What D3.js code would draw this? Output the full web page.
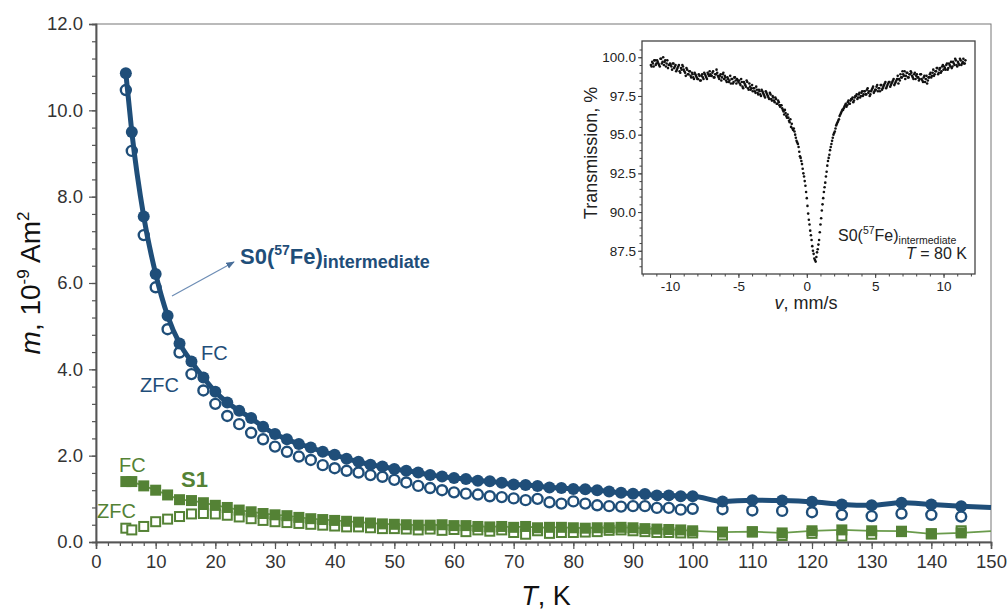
<!DOCTYPE html>
<html><head><meta charset="utf-8">
<script src="https://cdn.jsdelivr.net/npm/d3@7"></script>
<style>
html,body{margin:0;padding:0;background:#fff;}
svg{display:block;font-family:"Liberation Sans",Arial,sans-serif;}
</style></head>
<body><svg id="c" width="1008" height="611"></svg>
<script>
// ---------------- data ----------------
const temps = [5,6,8,10,12,14,16,18,20,22,24,26,28,30,32,34,36,38,40,42,44,46,48,50,52,54,56,58,60,62,64,66,68,70,72,74,76,78,80,82,84,86,88,90,92,94,96,98,100,105,110,115,120,125,130,135,140,145];
const s0FC  = [10.86,9.50,7.54,6.21,5.24,4.60,4.18,3.81,3.48,3.23,3.04,2.87,2.67,2.50,2.38,2.27,2.19,2.09,2.02,1.93,1.86,1.79,1.75,1.69,1.65,1.61,1.55,1.52,1.48,1.46,1.42,1.41,1.37,1.33,1.32,1.30,1.26,1.25,1.23,1.22,1.20,1.17,1.14,1.12,1.11,1.08,1.08,1.06,1.06,0.94,0.97,0.96,0.93,0.87,0.85,0.91,0.87,0.83];
const s0ZFC = [10.47,9.06,7.11,5.90,4.93,4.39,3.89,3.51,3.20,2.92,2.73,2.53,2.38,2.21,2.09,1.98,1.90,1.78,1.71,1.65,1.61,1.55,1.51,1.44,1.38,1.30,1.25,1.20,1.15,1.12,1.10,1.06,1.04,1.01,0.97,1.00,0.92,0.89,0.94,0.89,0.85,0.83,0.82,0.83,0.83,0.79,0.79,0.75,0.77,0.76,0.73,0.72,0.69,0.63,0.60,0.66,0.63,0.59];
const s1FC  = [1.40,1.40,1.30,1.20,1.09,0.98,0.96,0.91,0.85,0.80,0.74,0.70,0.66,0.63,0.61,0.57,0.54,0.52,0.50,0.48,0.46,0.44,0.42,0.41,0.40,0.39,0.39,0.40,0.38,0.38,0.36,0.35,0.36,0.34,0.36,0.33,0.34,0.34,0.33,0.32,0.33,0.33,0.34,0.33,0.31,0.30,0.29,0.28,0.26,0.23,0.24,0.21,0.26,0.28,0.26,0.25,0.19,0.21];
const s1ZFC = [0.32,0.28,0.36,0.47,0.53,0.59,0.65,0.66,0.65,0.62,0.58,0.54,0.50,0.47,0.45,0.43,0.41,0.39,0.37,0.35,0.35,0.33,0.31,0.31,0.30,0.28,0.30,0.27,0.29,0.24,0.28,0.25,0.28,0.22,0.18,0.26,0.20,0.22,0.22,0.23,0.24,0.27,0.28,0.26,0.24,0.22,0.22,0.21,0.21,0.16,0.23,0.15,0.20,0.14,0.18,0.24,0.19,0.26];
// line tails drawn beyond last measured point (read at T = 150 K)
const s0LineEnd = [150, 0.80];
const s1LineEnd = [150, 0.25];

const xTicks = [0,10,20,30,40,50,60,70,80,90,100,110,120,130,140,150];
const yTicks = [0,2,4,6,8,10,12];

// Inset Mössbauer spectrum (two interleaved sets of channels)
const vel = [
-11.4,-11.3,-11.2,-11.1,-11.0,
-10.9,-10.8,-10.7,-10.6,-10.5,-10.4,-10.3,-10.2,-10.1,-10.0,
-9.9,-9.8,-9.7,-9.6,-9.5,-9.4,-9.3,-9.2,-9.1,-9.0,
-8.9,-8.8,-8.7,-8.6,-8.5,-8.4,-8.3,-8.2,-8.1,-8.0,
-7.9,-7.8,-7.7,-7.6,-7.5,-7.4,-7.3,-7.2,-7.1,-7.0,
-6.9,-6.8,-6.7,-6.6,-6.5,-6.4,-6.3,-6.2,-6.1,-6.0,
-5.9,-5.8,-5.7,-5.6,-5.5,-5.4,-5.3,-5.2,-5.1,-5.0,
-4.9,-4.8,-4.7,-4.6,-4.5,-4.4,-4.3,-4.2,-4.1,-4.0,
-3.9,-3.8,-3.7,-3.6,-3.5,-3.4,-3.3,-3.2,-3.1,-3.0,
-2.9,-2.8,-2.7,-2.6,-2.5,-2.4,-2.3,-2.2,-2.1,-2.0,
-1.9,-1.8,-1.7,-1.6,-1.5,-1.4,-1.3,-1.2,-1.1,-1.0,
-0.9,-0.8,-0.7,-0.6,-0.5,-0.4,-0.3,-0.2,-0.1,0.0,
0.1,0.2,0.3,0.4,0.5,0.6,0.7,0.8,0.9,1.0,
1.1,1.2,1.3,1.4,1.5,1.6,1.7,1.8,1.9,2.0,
2.1,2.2,2.3,2.4,2.5,2.6,2.7,2.8,2.9,3.0,
3.1,3.2,3.3,3.4,3.5,3.6,3.7,3.8,3.9,4.0,
4.1,4.2,4.3,4.4,4.5,4.6,4.7,4.8,4.9,5.0,
5.1,5.2,5.3,5.4,5.5,5.6,5.7,5.8,5.9,6.0,
6.1,6.2,6.3,6.4,6.5,6.6,6.7,6.8,6.9,7.0,
7.1,7.2,7.3,7.4,7.5,7.6,7.7,7.8,7.9,8.0,
8.1,8.2,8.3,8.4,8.5,8.6,8.7,8.8,8.9,9.0,
9.1,9.2,9.3,9.4,9.5,9.6,9.7,9.8,9.9,10.0,
10.1,10.2,10.3,10.4,10.5,10.6,10.7,10.8,10.9,11.0,
11.1,11.2,11.3,11.4,11.5,11.6];
const trans = [
99.5,99.7,99.4,99.8,99.6,
99.7,99.5,99.9,99.6,100.0,99.7,99.4,99.8,99.5,99.6,
99.4,99.6,99.3,99.5,99.2,99.4,99.1,99.3,99.5,99.2,
99.0,99.3,98.9,99.1,98.8,99.0,98.7,99.0,98.8,98.6,
98.9,98.5,98.8,98.7,99.0,98.8,98.6,98.9,99.1,98.8,
99.0,98.7,98.9,99.2,98.8,98.6,98.9,98.7,99.0,98.8,
98.5,98.7,98.4,98.8,98.6,98.3,98.7,98.5,98.6,98.4,
98.3,98.6,98.1,98.4,98.2,98.5,98.0,98.3,97.9,98.2,
98.0,97.8,98.1,97.7,97.9,97.6,97.9,97.7,97.5,97.8,
97.6,97.4,97.7,97.3,97.5,97.2,97.4,97.0,97.2,96.9,
96.9,96.7,96.5,96.6,96.2,96.3,95.9,96.0,95.7,95.3,
95.2,94.8,94.5,94.2,93.6,93.3,92.8,92.3,91.7,90.9,
89.9,89.2,88.5,87.8,87.3,86.9,87.1,87.6,88.2,89.2,
90.1,90.9,91.6,92.3,93.0,93.5,94.0,94.4,94.8,95.1,
95.4,95.7,95.9,96.2,96.4,96.6,96.7,96.9,96.8,97.1,
97.0,97.2,97.3,97.1,97.4,97.5,97.3,97.6,97.4,97.7,
97.5,97.8,97.6,97.9,97.7,97.5,97.8,98.0,97.7,97.9,
98.1,97.8,98.0,98.2,97.9,98.1,98.3,98.0,98.2,98.4,
98.1,98.3,98.5,98.2,98.4,98.6,98.3,98.5,98.7,99.1,
98.8,98.6,99.0,98.7,98.9,99.1,98.8,98.6,99.0,98.8,
98.7,98.5,98.9,98.6,98.4,98.8,98.6,98.3,98.7,98.9,
98.7,99.0,98.8,99.1,99.3,98.9,99.2,99.0,99.4,99.2,
99.3,99.5,99.2,99.6,99.4,99.3,99.7,99.5,99.8,99.4,
99.6,99.9,99.5,99.7,99.6,99.8];
const vel2 = [
-11.35,-11.25,-11.15,-11.05,
-10.95,-10.85,-10.75,-10.65,-10.55,-10.45,-10.35,-10.25,-10.15,-10.05,
-9.95,-9.85,-9.75,-9.65,-9.55,-9.45,-9.35,-9.25,-9.15,-9.05,
-8.95,-8.85,-8.75,-8.65,-8.55,-8.45,-8.35,-8.25,-8.15,-8.05,
-7.95,-7.85,-7.75,-7.65,-7.55,-7.45,-7.35,-7.25,-7.15,-7.05,
-6.95,-6.85,-6.75,-6.65,-6.55,-6.45,-6.35,-6.25,-6.15,-6.05,
-5.95,-5.85,-5.75,-5.65,-5.55,-5.45,-5.35,-5.25,-5.15,-5.05,
-4.95,-4.85,-4.75,-4.65,-4.55,-4.45,-4.35,-4.25,-4.15,-4.05,
-3.95,-3.85,-3.75,-3.65,-3.55,-3.45,-3.35,-3.25,-3.15,-3.05,
-2.95,-2.85,-2.75,-2.65,-2.55,-2.45,-2.35,-2.25,-2.15,-2.05,
-1.95,-1.85,-1.75,-1.65,-1.55,-1.45,-1.35,-1.25,-1.15,-1.05,
-0.95,-0.85,-0.75,-0.65,-0.55,-0.45,-0.35,-0.25,-0.15,-0.05,
0.05,0.15,0.25,0.35,0.45,0.55,0.65,0.75,0.85,0.95,
1.05,1.15,1.25,1.35,1.45,1.55,1.65,1.75,1.85,1.95,
2.05,2.15,2.25,2.35,2.45,2.55,2.65,2.75,2.85,2.95,
3.05,3.15,3.25,3.35,3.45,3.55,3.65,3.75,3.85,3.95,
4.05,4.15,4.25,4.35,4.45,4.55,4.65,4.75,4.85,4.95,
5.05,5.15,5.25,5.35,5.45,5.55,5.65,5.75,5.85,5.95,
6.05,6.15,6.25,6.35,6.45,6.55,6.65,6.75,6.85,6.95,
7.05,7.15,7.25,7.35,7.45,7.55,7.65,7.75,7.85,7.95,
8.05,8.15,8.25,8.35,8.45,8.55,8.65,8.75,8.85,8.95,
9.05,9.15,9.25,9.35,9.45,9.55,9.65,9.75,9.85,9.95,
10.05,10.15,10.25,10.35,10.45,10.55,10.65,10.75,10.85,10.95,
11.05,11.15,11.25,11.35,11.45,11.55];
const trans2 = [
99.4,99.6,99.8,99.5,
99.8,99.6,99.4,99.9,99.7,99.5,99.8,99.6,99.3,99.5,
99.5,99.2,99.6,99.4,99.1,99.3,99.5,99.0,99.2,99.4,
99.1,98.8,99.2,98.9,99.1,98.7,98.9,98.6,98.9,98.7,
98.6,98.8,98.5,98.9,98.6,98.9,98.7,99.0,98.8,98.9,
98.8,99.1,98.7,98.9,99.0,98.7,98.8,98.5,98.9,98.6,
98.7,98.4,98.6,98.5,98.3,98.6,98.4,98.7,98.3,98.5,
98.5,98.2,98.4,98.0,98.3,98.1,98.4,97.9,98.1,98.0,
97.8,98.0,97.7,97.9,97.6,97.8,97.5,97.8,97.6,97.4,
97.7,97.5,97.3,97.6,97.2,97.4,97.1,97.3,97.0,97.1,
96.8,96.9,96.6,96.3,96.4,96.1,96.1,95.8,95.5,95.4,
95.4,95.0,94.6,94.4,93.9,93.5,93.1,92.5,92.0,91.3,
90.4,89.5,88.8,88.2,87.5,87.0,86.8,87.4,87.9,88.7,
89.6,90.5,91.3,91.9,92.6,93.3,93.7,94.2,94.6,95.0,
95.2,95.6,95.8,96.0,96.3,96.5,96.6,96.8,97.0,96.9,
97.2,97.0,97.3,97.4,97.2,97.5,97.6,97.4,97.7,97.5,
97.8,97.6,97.8,97.6,98.0,97.8,97.6,97.9,98.1,97.8,
97.9,98.2,98.0,97.8,98.2,98.0,98.2,98.4,98.1,98.3,
98.4,98.2,98.4,98.6,98.3,98.5,98.8,98.6,98.9,98.7,
98.9,99.1,98.8,99.0,98.7,98.9,99.0,98.7,98.9,98.6,
98.9,98.7,98.6,98.9,98.5,98.7,98.4,98.8,98.5,98.7,
99.0,98.8,99.2,98.9,99.1,99.3,99.0,99.3,99.1,99.5,
99.4,99.2,99.6,99.3,99.5,99.7,99.4,99.6,99.9,99.5,
99.7,99.5,99.8,99.6,99.9,99.6];
const insetXTicks = [-10,-5,0,5,10];
const insetYTicks = [87.5,90,92.5,95,97.5,100];

// ---------------- drawing ----------------
const BLUE = "#1f4e79", GREEN = "#548235", GREEN_LINE = "#6a9b4c", AX = "#555";
const svg = d3.select("#c");
const L = 96, R = 991, Tp = 24, B = 542;
const x = d3.scaleLinear().domain([0,150]).range([L,R]);
const y = d3.scaleLinear().domain([0,12]).range([B,Tp]);

// frame
svg.append("rect").attr("x",L).attr("y",Tp).attr("width",R-L).attr("height",B-Tp)
  .attr("fill","none").attr("stroke","#777").attr("stroke-width",1);

// axes
const minorX = d3.range(0,151,2), minorY = d3.range(0,12.01,0.4);
const gx = svg.append("g").attr("transform",`translate(0,${B})`)
  .call(d3.axisBottom(x).tickValues(minorX).tickSize(4).tickFormat(""));
const gx2 = svg.append("g").attr("transform",`translate(0,${B})`)
  .call(d3.axisBottom(x).tickValues(xTicks).tickSize(7).tickPadding(6).tickFormat(d=>String(d)));
const gy = svg.append("g").attr("transform",`translate(${L},0)`)
  .call(d3.axisLeft(y).tickValues(minorY).tickSize(4).tickFormat(""));
const gy2 = svg.append("g").attr("transform",`translate(${L},0)`)
  .call(d3.axisLeft(y).tickValues(yTicks).tickSize(7).tickPadding(6).tickFormat(d3.format(".1f")));
[gx,gx2,gy,gy2].forEach(g=>{
  g.selectAll("path").attr("stroke",AX).attr("stroke-width",1.5);
  g.selectAll("line").attr("stroke",AX).attr("stroke-width",1.2);
  g.selectAll("text").attr("fill","#333").style("font-size","18.5px").style("font-family","Liberation Sans, Arial");
});

// axis titles
const yt = svg.append("text").attr("transform","translate(40,283) rotate(-90)")
  .attr("text-anchor","middle").style("font-size","28px").attr("fill","#111");
yt.append("tspan").text("m").style("font-style","italic");
yt.append("tspan").text(", 10");
yt.append("tspan").text("-9").style("font-size","17px").attr("dy",-11);
yt.append("tspan").text(" Am").attr("dy",11);
yt.append("tspan").text("2").style("font-size","17px").attr("dy",-11);

const xt = svg.append("text").attr("x",546).attr("y",605).attr("text-anchor","middle")
  .style("font-size","27px").attr("fill","#111");
xt.append("tspan").text("T").style("font-style","italic");
xt.append("tspan").text(", K");

// ---- S1 (green) ----
const s1 = temps.map((t,i)=>({t, fc:s1FC[i], zfc:s1ZFC[i]}));
const sq = 11;
svg.append("g").selectAll("rect").data(s1).join("rect")
  .attr("x",d=>x(d.t)-sq/2+1).attr("y",d=>y(d.zfc)-sq/2+1).attr("width",sq-2).attr("height",sq-2)
  .attr("fill","#fff").attr("stroke",GREEN).attr("stroke-width",2);
const s1Line = s1.map(d=>[d.t,d.fc]).concat([s1LineEnd]);
svg.append("path").datum(s1Line)
  .attr("d",d3.line().x(d=>x(d[0])).y(d=>y(d[1])))
  .attr("fill","none").attr("stroke",GREEN_LINE).attr("stroke-width",1.8);
svg.append("g").selectAll("rect").data(s1).join("rect")
  .attr("x",d=>x(d.t)-sq/2).attr("y",d=>y(d.fc)-sq/2).attr("width",sq).attr("height",sq)
  .attr("fill",GREEN);

// ---- S0 (blue) ----
const s0 = temps.map((t,i)=>({t, fc:s0FC[i], zfc:s0ZFC[i]}));
svg.append("g").selectAll("circle").data(s0).join("circle")
  .attr("cx",d=>x(d.t)).attr("cy",d=>y(d.zfc)).attr("r",5)
  .attr("fill","#fff").attr("stroke",BLUE).attr("stroke-width",2.4);
const s0Line = s0.map(d=>[d.t,d.fc]).concat([s0LineEnd]);
svg.append("path").datum(s0Line)
  .attr("d",d3.line().curve(d3.curveMonotoneX).x(d=>x(d[0])).y(d=>y(d[1])))
  .attr("fill","none").attr("stroke",BLUE).attr("stroke-width",5).attr("stroke-linejoin","round");
svg.append("g").selectAll("circle").data(s0).join("circle")
  .attr("cx",d=>x(d.t)).attr("cy",d=>y(d.fc)).attr("r",6).attr("fill",BLUE);

// ---- labels ----
function lab(tx,ty,str,col,size,bold){
  return svg.append("text").attr("x",tx).attr("y",ty).text(str).attr("fill",col)
    .style("font-size",size+"px").style("font-weight",bold?"bold":"normal");
}
lab(201,360,"FC",BLUE,20);
lab(140,392,"ZFC",BLUE,20);
lab(119,472,"FC",GREEN,20);
lab(181,487,"S1",GREEN,22,true);
lab(97,518,"ZFC",GREEN,20);

const s0t = svg.append("text").attr("x",240).attr("y",264).attr("fill",BLUE)
  .style("font-size","22px").style("font-weight","bold");
s0t.append("tspan").text("S0(");
s0t.append("tspan").text("57").style("font-size","14px").attr("dy",-9);
s0t.append("tspan").text("Fe)").attr("dy",9);
s0t.append("tspan").text("intermediate").style("font-size","18px").attr("dy",4);

svg.append("defs").append("marker").attr("id","ah").attr("viewBox","0 0 10 10")
  .attr("refX",9).attr("refY",5).attr("markerWidth",7).attr("markerHeight",7).attr("orient","auto")
  .append("path").attr("d","M0,1 L10,5 L0,9 z").attr("fill","#4a6f9a");
svg.append("line").attr("x1",172).attr("y1",296).attr("x2",234).attr("y2",262)
  .attr("stroke","#6d8db5").attr("stroke-width",1.2).attr("marker-end","url(#ah)");

// ---------------- inset ----------------
const iL = 642, iR = 975, iT = 41, iB = 274;
const ix = d3.scaleLinear().domain([-12.05,12.3]).range([iL,iR]);
const iy = d3.scaleLinear().domain([86.0,101.05]).range([iB,iT]);
const inset = svg.append("g");
inset.append("rect").attr("x",iL).attr("y",iT).attr("width",iR-iL).attr("height",iB-iT)
  .attr("fill","#fff").attr("stroke","#444").attr("stroke-width",1.3);
const ixg = inset.append("g").attr("transform",`translate(0,${iB})`)
  .call(d3.axisBottom(ix).tickValues(d3.range(-12,13,1)).tickSize(2.5).tickFormat(""));
const ixg2 = inset.append("g").attr("transform",`translate(0,${iB})`)
  .call(d3.axisBottom(ix).tickValues(insetXTicks).tickSize(4).tickPadding(3).tickFormat(d=>String(d)));
const iyg = inset.append("g").attr("transform",`translate(${iL},0)`)
  .call(d3.axisLeft(iy).tickValues(d3.range(86.5,101,0.5)).tickSize(2.5).tickFormat(""));
const iyg2 = inset.append("g").attr("transform",`translate(${iL},0)`)
  .call(d3.axisLeft(iy).tickValues(insetYTicks).tickSize(4).tickPadding(2).tickFormat(d3.format(".1f")));
[ixg,ixg2,iyg,iyg2].forEach(g=>{
  g.select("path").remove();
  g.selectAll("line").attr("stroke","#444").attr("stroke-width",1);
  g.selectAll("text").attr("fill","#222").style("font-size","13.5px").style("font-family","Liberation Sans, Arial");
});
const specPts = vel.map((v,i)=>[v,trans[i]]).concat(vel2.map((v,i)=>[v,trans2[i]]));
inset.append("g").selectAll("circle").data(specPts).join("circle")
  .attr("cx",d=>ix(d[0])).attr("cy",d=>iy(d[1])).attr("r",1.3).attr("fill","#111");

inset.append("text").attr("transform","translate(597,153) rotate(-90)")
  .attr("text-anchor","middle").style("font-size","18px").attr("fill","#222").text("Transmission, %");
const ixt = inset.append("text").attr("x",806).attr("y",309).attr("text-anchor","middle")
  .style("font-size","18px").attr("fill","#222");
ixt.append("tspan").text("v").style("font-style","italic");
ixt.append("tspan").text(", mm/s");

const it1 = inset.append("text").attr("x",838).attr("y",241).style("font-size","16px").attr("fill","#222");
it1.append("tspan").text("S0(");
it1.append("tspan").text("57").style("font-size","10.5px").attr("dy",-7);
it1.append("tspan").text("Fe)").attr("dy",7);
it1.append("tspan").text("intermediate").style("font-size","10.5px").attr("dy",3);
const it2 = inset.append("text").attr("x",967).attr("y",259).attr("text-anchor","end")
  .style("font-size","16px").attr("fill","#222");
it2.append("tspan").text("T").style("font-style","italic");
it2.append("tspan").text(" = 80 K");
</script></body></html>
